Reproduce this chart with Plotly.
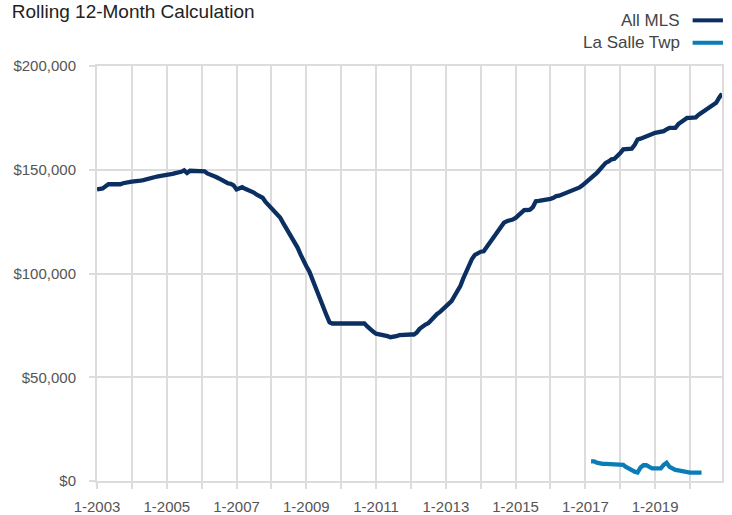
import plotly.graph_objects as go
import pandas as pd

# ---------------- data ----------------
series_names = ["All MLS", "La Salle Twp"]

all_mls_start = "2003-01-01"
# monthly values, in $ thousands, 2003-01 .. 2020-12
all_mls_k = [
    # 2003
    140.5, 140.5, 141, 142, 143, 143, 143, 142.5, 143, 143.5, 143.5, 144,
    # 2004
    144.3, 144.3, 144.5, 144.8, 145, 145.5, 146, 146.5, 146.5, 146.8, 147, 147.2,
    # 2005
    147.2, 147.5, 148, 148.4, 148.5, 149, 149.7, 148.4, 149.5, 149.5, 149.6, 149.5,
    # 2006
    149.5, 149.2, 148.2, 147.8, 147.4, 146.5, 145.8, 145, 144, 143.5, 143.2, 142.5,
    # 2007
    140.5, 141.2, 141.6, 140.8, 140.3, 139.7, 139, 138, 137, 136.5, 134.5, 133,
    # 2008
    131.7, 130.5, 128.9, 127, 124.5, 122, 120, 117.5, 115.6, 112.5, 109.2, 106,
    # 2009
    103.5, 101, 97.5, 93.9, 90, 86, 82.6, 79.8, 76.5, 75.9, 75.9, 75.9,
    # 2010
    75.9, 75.9, 75.9, 75.9, 75.9, 75.9, 75.9, 75.9, 75.9, 74.5, 73, 72,
    # 2011
    71, 70.8, 70.6, 70.5, 69.8, 69.3, 69.3, 69.8, 70.3, 70.5, 70.6, 70.6,
    # 2012
    70.6, 70.6, 71.5, 73.3, 74.5, 75.4, 76, 77.5, 79.4, 80.5, 81.5, 82.6,
    # 2013
    84, 85.5, 86.7, 89, 91, 93.9, 97.5, 101, 104.3, 107, 109, 110,
    # 2014
    110.5, 110.7, 112.5, 114.5, 117.2, 118.8, 120.5, 122.5, 124.5, 125.2, 125.5, 126,
    # 2015
    126.8, 128, 129, 130.5, 130.6, 130.8, 132, 134.8, 135, 135.2, 135.3, 135.3,
    # 2016
    136, 136.5, 137.3, 137.5, 138, 138.5, 138.9, 139.5, 140, 140.8, 141.5, 142.5,
    # 2017
    143.7, 144.5, 145.5, 146.9, 148.5, 150.1, 151.5, 153.3, 154, 155, 155.3, 156.5,
    # 2018
    158, 159.8, 160, 160.1, 160.2, 162, 164.6, 165, 165.5, 165.7, 166.5, 167.2,
    # 2019
    167.8, 168, 168.4, 168.6, 169.5, 170.2, 170.2, 170.2, 172, 173.1, 174, 175,
    # 2020
    175, 175, 175.2, 176.5, 177.4, 178.3, 179.3, 180.3, 181.2, 182.3, 184.7, 186.7,
]

la_salle_start = "2017-03-01"
# monthly values, in $ thousands, 2017-03 .. 2020-05
la_salle_k = [
    9.5, 9.5, 8.8, 8.3, 8.3, 8.3, 8.3, 8.3, 8.3, 8.3,      # 2017-03 .. 2017-12
    8.3, 7.8, 6.8, 5.9, 5.2, 4.5, 4.1, 6.5, 7.6, 7.6, 6.8, 6.1,  # 2018
    6.1, 6.1, 6.1, 7.8, 8.8, 6.8, 6.0, 5.3, 5.1, 4.8, 4.5, 4.0,  # 2019
    4.0, 4.0, 4.0, 4.0, 4.0,                                # 2020-01 .. 2020-05
]

tick_years = list(range(2003, 2021))
tick_labels = [f"1-{y}" if (y - 2003) % 2 == 0 else "" for y in tick_years]
y_ticks = [0, 50000, 100000, 150000, 200000]
y_tick_labels = ["$0", "$50,000", "$100,000", "$150,000", "$200,000"]

title_text = "Rolling 12-Month Calculation"

colors = ["#0c2f62", "#0b7db6"]

# ---------------- build ----------------
x_all = pd.date_range(all_mls_start, periods=len(all_mls_k), freq="MS")
x_ls = pd.date_range(la_salle_start, periods=len(la_salle_k), freq="MS")

fig = go.Figure()
fig.add_trace(go.Scatter(x=x_all, y=[v * 1000 for v in all_mls_k], mode="lines",
                         name=series_names[0], line=dict(color=colors[0], width=4.3)))
fig.add_trace(go.Scatter(x=x_ls, y=[v * 1000 for v in la_salle_k], mode="lines",
                         name=series_names[1], line=dict(color=colors[1], width=4.3)))

grid = "#dcdcdc"
font_family = "Liberation Sans, Arial, sans-serif"

fig.update_layout(
    width=732, height=515,
    margin=dict(l=97, r=10, t=66, b=34, autoexpand=False),
    paper_bgcolor="white", plot_bgcolor="white",
    showlegend=False,
    font=dict(family=font_family, color="#555555", size=15),
    title=dict(text=title_text, x=0.016, xref="container", xanchor="left",
               y=0.977, yref="container", yanchor="middle",
               font=dict(size=19, color="#222222", family=font_family)),
)

fig.update_xaxes(
    type="date",
    range=[x_all[0], x_all[-1]],
    tickvals=[pd.Timestamp(f"{y}-01-01") for y in tick_years],
    ticktext=tick_labels,
    showgrid=True, gridcolor=grid, gridwidth=2,
    showline=True, linecolor=grid, linewidth=2, mirror=True,
    ticks="outside", ticklen=6, tickcolor=grid, tickwidth=2,
    ticklabelstandoff=5,
    tickfont=dict(size=15, color="#555555"),
    zeroline=False, automargin=False,
)
fig.update_yaxes(
    range=[0, 200000],
    tickvals=y_ticks, ticktext=y_tick_labels,
    showgrid=True, gridcolor=grid, gridwidth=2,
    showline=True, linecolor=grid, linewidth=2, mirror=True,
    ticks="outside", ticklen=6, tickcolor=grid, tickwidth=2,
    ticklabelstandoff=10,
    tickfont=dict(size=15, color="#555555"),
    zeroline=False, automargin=False,
)

# custom legend: text on the left, line sample on the right
legend_rows_y = [1.110, 1.056]
for name, col, yy in zip(series_names, colors, legend_rows_y):
    fig.add_annotation(text=name, xref="paper", yref="paper", x=0.9355, y=yy,
                       xanchor="right", yanchor="middle", showarrow=False,
                       font=dict(size=17, color="#444444", family=font_family))
    fig.add_shape(type="line", xref="paper", yref="paper",
                  x0=0.953, x1=1.0015, y0=yy, y1=yy,
                  line=dict(color=col, width=4))

fig.write_html("out.html", config={"displayModeBar": False, "staticPlot": True},
               post_script="document.body.style.margin='0';document.body.style.overflow='hidden';")
